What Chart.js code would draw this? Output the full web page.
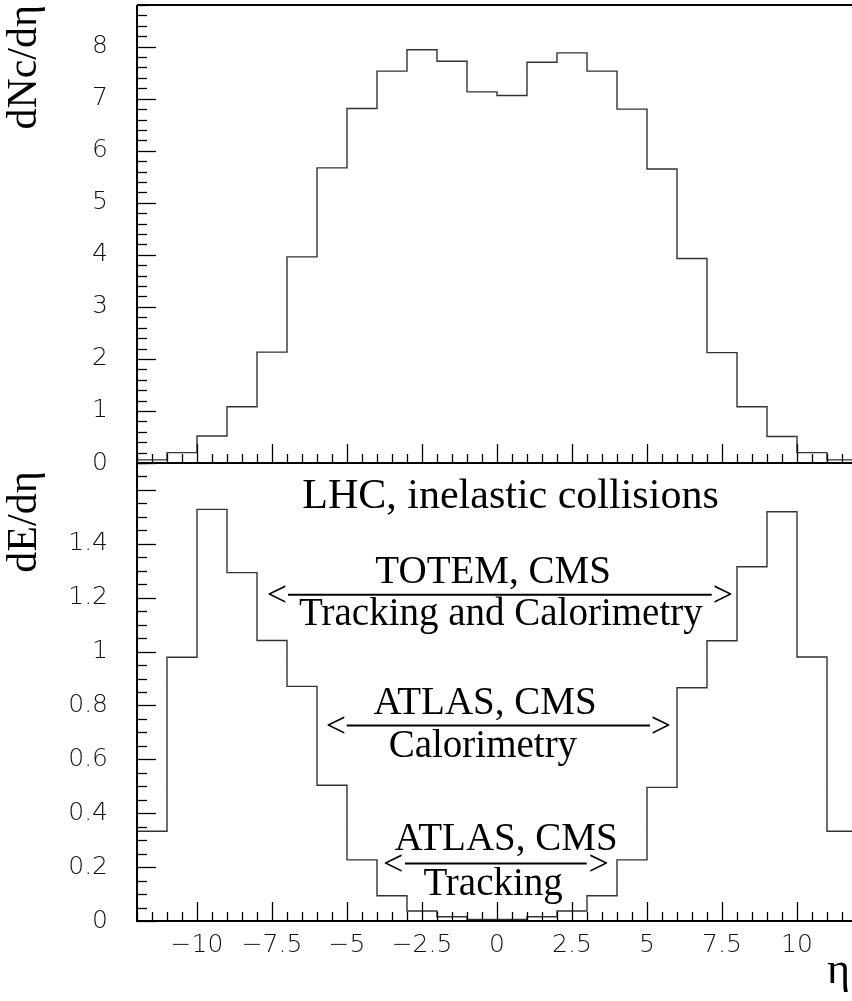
<!DOCTYPE html>
<html>
<head>
<meta charset="utf-8">
<script src="https://cdn.jsdelivr.net/npm/chart.js@4.4.1/dist/chart.umd.min.js"></script>
<style>
html,body{margin:0;padding:0;background:#fff;width:852px;height:1001px;overflow:hidden}
#wrap{position:relative;width:852px;height:1001px;overflow:hidden}
canvas{position:absolute;left:0;top:0}
</style>
</head>
<body>
<div id="wrap">
<canvas id="topChart" width="870" height="1001"></canvas>
<canvas id="bottomChart" width="870" height="1001"></canvas>
</div>
<script>
// ---- data ----
const binEdges = [-12,-11,-10,-9,-8,-7,-6,-5,-4,-3,-2,-1,0,1,2,3,4,5,6,7,8,9,10,11,12];
const dNcValues = [0.06,0.20,0.52,1.08,2.13,3.96,5.67,6.81,7.53,7.94,7.72,7.13,
                   7.06,7.70,7.88,7.53,6.80,5.65,3.93,2.12,1.08,0.51,0.20,0.06];
const dEValues  = [0.333,0.979,1.528,1.293,1.041,0.871,0.504,0.227,0.094,0.037,0.016,0.006,
                   0.006,0.016,0.037,0.094,0.227,0.496,0.866,1.040,1.315,1.519,0.980,0.333];
const xTickLabels = [-10,-7.5,-5,-2.5,0,2.5,5,7.5,10];
const dNcTickLabels = [0,1,2,3,4,5,6,7,8];
const dETickLabels = [0,0.2,0.4,0.6,0.8,1,1.2,1.4];

function stepPoints(edges, values){
  const pts = values.map((v,i)=>({x:edges[i], y:v}));
  pts.push({x:edges[edges.length-1], y:values[values.length-1]});
  return pts;
}
const fmt = v => (v<0 ? '\u2212' + String(-v) : String(v));

const tickFont = {family:'DejaVu Sans', size:25, weight:200};
const serif = 'Liberation Serif';

// inward tick marks + frame
const framePlugin = {
  id:'frame',
  afterDatasetsDraw(chart, args, o){
    const {ctx, chartArea:a, scales:{x,y}} = chart;
    ctx.save();
    ctx.strokeStyle = '#000';
    const seg=(x1,y1,x2,y2)=>{ctx.beginPath();ctx.moveTo(x1,y1);ctx.lineTo(x2,y2);ctx.stroke();};
    ctx.lineWidth = 2;
    seg(a.left, a.top, a.left, a.bottom+1);
    seg(a.left, a.bottom, a.right, a.bottom);
    if (o.topBorder) seg(a.left, a.top, a.right, a.top);
    ctx.lineWidth = 1.3;
    let n = Math.round((y.max - y.min)/o.yMinor);
    for (let i=0;i<=n;i++){
      const v = y.min + i*o.yMinor;
      const r = v/o.yMajor, major = Math.abs(r-Math.round(r))<1e-6;
      const p = Math.round(y.getPixelForValue(v))+0.5;
      seg(a.left, p, a.left + (major?19:10), p);
    }
    n = Math.round((x.max - x.min)/o.xMinor);
    for (let i=0;i<=n;i++){
      const v = x.min + i*o.xMinor;
      const r = v/o.xMajor, major = Math.abs(r-Math.round(r))<1e-6;
      const p = Math.round(x.getPixelForValue(v))+0.5;
      seg(p, a.bottom, p, a.bottom - (major?19:9));
    }
    ctx.restore();
  }
};

// text labels placed in data coordinates
const notesPlugin = {
  id:'notes',
  afterDatasetsDraw(chart, args, o){
    if (!o.items) return;
    const {ctx, chartArea:a, scales:{x,y}} = chart;
    ctx.save();
    ctx.fillStyle = '#000'; ctx.strokeStyle = '#000';
    o.items.forEach(it=>{
      if (it.bar){
        ctx.lineWidth = 2;
        const py = y.getPixelForValue(it.y);
        ctx.beginPath(); ctx.moveTo(x.getPixelForValue(it.x1), py); ctx.lineTo(x.getPixelForValue(it.x2), py); ctx.stroke();
      } else {
        ctx.font = (it.size||39) + 'px "' + serif + '"';
        ctx.textAlign = 'center';
        ctx.textBaseline = it.middle ? 'middle' : 'alphabetic';
        ctx.fillText(it.text, x.getPixelForValue(it.x), y.getPixelForValue(it.y) + (it.middle?2:0));
      }
    });
    if (o.xTitle){
      ctx.font = '44px "' + serif + '"';
      ctx.textAlign = 'right'; ctx.textBaseline = 'alphabetic';
      ctx.fillText(o.xTitle, a.right - 7, a.bottom + 62);
    }
    ctx.restore();
  }
};

function yScale(min, max, labels, title){
  return {
    type:'linear', min, max,
    afterBuildTicks: s => { s.ticks = labels.map(v=>({value:v})); },
    afterFit: s => { s.width = 137; s.paddingTop = 0; s.paddingBottom = 0; },
    grid:{display:false, drawTicks:false},
    border:{display:false},
    ticks:{font:tickFont, color:'#111', padding:29, callback: v => fmt(v)},
    title:{display:true, text:title, align:'end', color:'#000', padding:{top:0,bottom:0},
           font:{family:serif, size:42}}
  };
}

Chart.defaults.animation = false;

new Chart(document.getElementById('topChart'), {
  type:'line',
  data:{datasets:[{data:stepPoints(binEdges, dNcValues), stepped:true, borderColor:'#333',
                   borderWidth:1.4, pointRadius:0, fill:false}]},
  options:{
    responsive:false, animation:false,
    layout:{padding:{top:5, bottom:538, left:0, right:13}},
    plugins:{legend:{display:false}, tooltip:{enabled:false},
             frame:{topBorder:true, yMajor:1, yMinor:0.2, xMajor:2.5, xMinor:0.5}},
    scales:{
      x:{type:'linear', min:-12, max:12, display:false},
      y:yScale(0, 8.8, dNcTickLabels, 'dNc/d\u03B7')
    }
  },
  plugins:[framePlugin]
});

new Chart(document.getElementById('bottomChart'), {
  type:'line',
  data:{datasets:[{data:stepPoints(binEdges, dEValues), stepped:true, borderColor:'#333',
                   borderWidth:1.4, pointRadius:0, fill:false}]},
  options:{
    responsive:false, animation:false,
    layout:{padding:{top:463, bottom:0, left:0, right:13}},
    plugins:{legend:{display:false}, tooltip:{enabled:false},
             frame:{topBorder:false, yMajor:0.2, yMinor:0.05, xMajor:2.5, xMinor:0.5},
             notes:{
               xTitle:'\u03B7',
               items:[
                 {text:'LHC, inelastic collisions', x:0.45, y:1.533, size:42},
                 {text:'TOTEM, CMS', x:-0.13, y:1.2556},
                 {bar:true, x1:-6.967, x2:7.157, y:1.211},
                 {text:'<', x:-7.34, y:1.211, size:36, middle:true},
                 {text:'>', x:7.53, y:1.211, size:36, middle:true},
                 {text:'Tracking and Calorimetry', x:0.13, y:1.1},
                 {text:'ATLAS, CMS', x:-0.4, y:0.770},
                 {bar:true, x1:-5.01, x2:5.1, y:0.726},
                 {text:'<', x:-5.37, y:0.726, size:36, middle:true},
                 {text:'>', x:5.46, y:0.726, size:36, middle:true},
                 {text:'Calorimetry', x:-0.47, y:0.6085},
                 {text:'ATLAS, CMS', x:0.3, y:0.263},
                 {bar:true, x1:-3.067, x2:2.99, y:0.2137},
                 {text:'<', x:-3.46, y:0.2137, size:36, middle:true},
                 {text:'>', x:3.39, y:0.2137, size:36, middle:true},
                 {text:'Tracking', x:-0.13, y:0.0963}
               ]
             }},
    scales:{
      x:{type:'linear', min:-12, max:12,
         afterBuildTicks: s => { s.ticks = xTickLabels.map(v=>({value:v})); },
         afterFit: s => { s.height = 80; },
         grid:{display:false, drawTicks:false}, border:{display:false},
         ticks:{font:tickFont, color:'#111', padding:9, maxRotation:0, autoSkip:false,
                callback: v => fmt(v)}},
      y:yScale(0, 1.7, dETickLabels, 'dE/d\u03B7\u2009')
    }
  },
  plugins:[framePlugin, notesPlugin]
});
</script>
</body>
</html>
